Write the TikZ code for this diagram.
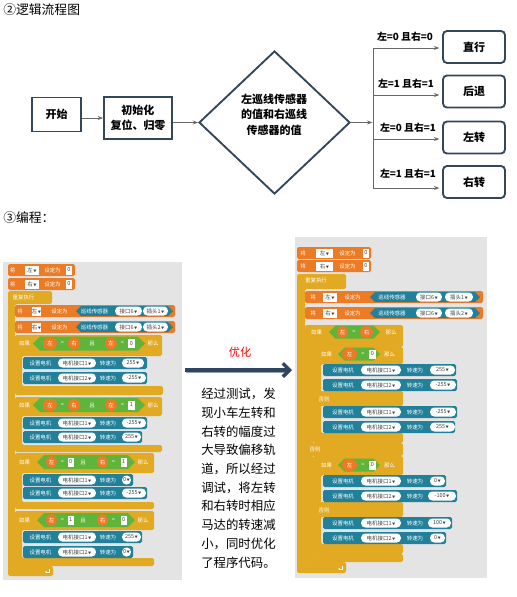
\documentclass[tikz,border=0pt]{standalone}
\usepackage{fontspec}
\setmainfont{Noto Sans CJK SC}
\newfontfamily\cjk{Noto Sans CJK SC}
\usetikzlibrary{arrows.meta,shapes.geometric}

\definecolor{orn}{HTML}{EB7B24}
\definecolor{ylw}{HTML}{E2A922}
\definecolor{tel}{HTML}{21809A}
\definecolor{grn}{HTML}{5FB43C}
\definecolor{bgg}{HTML}{E4E4E4}
\definecolor{frame}{HTML}{34465C}
\definecolor{navy}{HTML}{2E4560}

\newcommand\blkfont{\fontsize{4.1}{4.5}\selectfont}
\newcommand\sDn{{\fontsize{2.4}{3}\selectfont\,▼}}
\newcommand\sTx[3]{\node[btxt] at (#1,#2) {#3};}
\newcommand\sBlk[5]{\fill[#1,rounded corners=1.2pt] (#2,#3) rectangle (#4,#5);}
\newcommand\sWbox[4]{\fill[white] (#1,#3-4.5) rectangle (#2,#3+4.5); \node[wtxt] at ({(#1+#2)/2},#3) {#4};}
\newcommand\sPill[4]{\fill[white,rounded corners=3.2pt] (#1,#3-4.5) rectangle (#2,#3+4.5); \node[wtxt] at ({(#1+#2)/2},#3) {#4};}
\newcommand\sVar[4]{\fill[orn,rounded corners=4pt] (#1,#3-6) rectangle (#2,#3+6); \node[btxt] at ({(#1+#2)/2},#3) {#4};}
\newcommand\sHex[5]{\fill[#1] (#2,#4) -- (#2+#5/2,#4-#5/2) -- (#3-#5/2,#4-#5/2) -- (#3,#4) -- (#3-#5/2,#4+#5/2) -- (#2+#5/2,#4+#5/2) -- cycle;}
\newcommand\sCee[9]{\fill[#1,rounded corners=1.2pt] (#2,#3) -- (#4,#3) -- (#4,#5) -- (#6,#5) -- (#6,#7) -- (#8,#7) -- (#8,#9) -- (#2,#9) -- cycle;}
% motor blocks: y, x2, port, speed, speed pill x1, speed pill x2
\newcommand\sMotL[6]{\fill[tel,rounded corners=1.2pt] (23,#1-6) rectangle (#2,#1+6);
 \sTx{40.5}{#1}{设置电机}\sPill{58}{96}{#1}{#3}\sTx{108}{#1}{转速为}\sPill{#5}{#6}{#1}{#4}}
\newcommand\sMotR[6]{\fill[tel,rounded corners=1.2pt] (323,#1-6) rectangle (#2,#1+6);
 \sTx{343}{#1}{设置电机}\sPill{361}{401}{#1}{#3}\sTx{415}{#1}{转速为}\sPill{#5}{#6}{#1}{#4}}

\begin{document}
\begin{tikzpicture}[x=0.75pt,y=-0.75pt,
  btxt/.style={inner sep=0,text=white,font=\cjk\blkfont},
  wtxt/.style={inner sep=0,text=black!75,font=\cjk\blkfont},
  fbox/.style={draw=frame,line width=1.4pt,inner sep=0,font=\cjk\bfseries\fontsize{8.25}{11.25}\selectfont},
  rbox/.style={fbox,rounded corners=3pt,minimum width=46.5pt,minimum height=24pt},
  ftxt/.style={inner sep=0,font=\cjk\bfseries\fontsize{8.25}{11.6}\selectfont},
  ltxt/.style={inner sep=0,font=\cjk\bfseries\fontsize{7.4}{9}\selectfont},
  lnk/.style={draw=black!60,line width=0.7pt},
  arr/.style={lnk,-{Stealth[length=4pt,width=3pt]}},
  mtxt/.style={inner sep=0,font=\cjk\fontsize{9.3}{12}\selectfont},
  ttxt/.style={inner sep=0,font=\cjk\fontsize{9.6}{12}\selectfont}]
\useasboundingbox (0,0) rectangle (517,597);
\fill[white] (0,0) rectangle (517,597);

% ---------- titles ----------
\node[ttxt,anchor=west] (title1) at (3,10) {②逻辑流程图};
\node[ttxt,anchor=west] (title2) at (3,218) {③编程：};

% ---------- flowchart ----------
\node[fbox,minimum width=36.75pt,minimum height=25.5pt] (start) at (56.5,114.5) {开始};
\node[fbox,minimum width=51pt,minimum height=31.5pt,align=center] (init) at (138,118) {初始化\\复位、归零};
\node[draw=frame,line width=1.4pt,shape=diamond,minimum width=113.25pt,minimum height=107.25pt,inner sep=0] (dia) at (274.5,122.5) {};
\node[ftxt,align=center] (diatext) at (274,114.5) {左巡线传感器\\的值和右巡线\\传感器的值};
\node[rbox] (b1) at (474,47) {直行};
\node[rbox] (b2) at (474,91.5) {后退};
\node[rbox] (b3) at (474,137.5) {左转};
\node[rbox] (b4) at (474,182) {右转};

\draw[arr] (start.east |- init.west) -- (init.west);
\draw[arr] (init.east |- dia.west) -- (dia.west);
\coordinate (split) at (373,122.5);
\coordinate (t1) at (373,48);
\coordinate (t2) at (373,95);
\coordinate (t3) at (373,139);
\coordinate (t4) at (373,188);
\draw[arr,shorten >=0.5pt] (dia.east) -- (split);
\draw[lnk] (t1) -- (t4);
\draw[arr,shorten >=2pt] (t1) -- (t1 -| b1.west);
\draw[arr,shorten >=2pt] (t2) -- (t2 -| b2.west);
\draw[arr,shorten >=2pt] (t3) -- (t3 -| b3.west);
\draw[arr,shorten >=2pt] (t4) -- (t4 -| b4.west);
\node[ltxt] (l1) at (405,37) {左=0 且右=0};
\node[ltxt] (l2) at (406,84) {左=1 且右=1};
\node[ltxt] (l3) at (408,128) {左=0 且右=1};
\node[ltxt] (l4) at (408,174) {左=1 且右=1};

% ---------- middle ----------
\node[inner sep=0,text=red,font=\cjk\fontsize{8.4}{10}\selectfont] (opt) at (240,352) {优化};
\coordinate (ma) at (185,370);
\coordinate (mb) at (292,370);
\draw[navy!50,line width=2.6pt] (186,371.5) -- (288,371.5);
\draw[navy,line width=2.6pt,-{Straight Barb[length=5pt,width=10pt]}] (ma) -- (mb);
\foreach \tline [count=\i from 0] in {经过测试，发,现小车左转和,右转的幅度过,大导致偏移轨,道，所以经过,调试，将左转,和右转时相应,马达的转速减,小，同时优化,了程序代码。}
  \node[mtxt,anchor=west] at (201,394+18.7*\i) {\tline};

% ---------- left program ----------
\fill[bgg] (3,262) rectangle (182,580);
\sBlk{orn}{8}{264}{75}{276}
\sTx{12.5}{270}{将}\sWbox{25}{39}{270}{左\sDn}\sTx{52.5}{270}{设定为}\sWbox{66}{72}{270}{0}
\sBlk{orn}{8}{278}{75}{290}
\sTx{12.5}{284}{将}\sWbox{25}{39}{284}{右\sDn}\sTx{52.5}{284}{设定为}\sWbox{66}{72}{284}{0}
\sCee{ylw}{8}{291}{52}{304}{15}{566}{53}{576}
\sTx{23.5}{297}{重复执行}
\draw[white,line width=0.5pt,-{Stealth[length=1.6pt,width=1.8pt]}] (49.5,568.5) -- (49.5,572) -- (45,572);
% sensor sets
\sBlk{orn}{15}{305}{175}{317}
\sTx{20}{311}{将}\sWbox{32}{41}{311}{左\sDn}\sTx{59.5}{311}{设定为}
\sHex{tel}{76}{173}{311}{10}
\sTx{94.5}{311}{巡线传感器}\sPill{115}{142}{311}{接口6\sDn}\sPill{143}{168}{311}{插头1\sDn}
\sBlk{orn}{15}{321}{175}{333}
\sTx{20}{327}{将}\sWbox{32}{41}{327}{右\sDn}\sTx{59.5}{327}{设定为}
\sHex{tel}{76}{173}{327}{10}
\sTx{94.5}{327}{巡线传感器}\sPill{115}{142}{327}{接口6\sDn}\sPill{143}{168}{327}{插头2\sDn}
% if 1
\sCee{ylw}{15}{335}{162}{356}{22}{386}{163}{395}
\sTx{24.5}{343.5}{如果}
\sHex{grn}{33}{145}{343.5}{14}
\sVar{43}{57}{343.5}{左}\sTx{62.5}{343.5}{=}\sVar{68}{80}{343.5}{右}\sTx{92}{343.5}{且}
\sVar{105}{117}{343.5}{左}\sTx{122.5}{343.5}{=}\sWbox{128}{135}{343.5}{0}\sTx{153}{343.5}{那么}
\sMotL{363}{147}{电机接口1\sDn}{255\sDn}{122}{144}
\sMotL{378}{147}{电机接口2\sDn}{-255\sDn}{122}{146}
% if 2
\sCee{ylw}{15}{397}{162}{416}{22}{445}{162}{452}
\sTx{24.5}{405}{如果}
\sHex{grn}{33}{145}{405}{14}
\sVar{43}{57}{405}{左}\sTx{62.5}{405}{=}\sVar{68}{80}{405}{右}\sTx{92}{405}{且}
\sVar{105}{117}{405}{左}\sTx{122.5}{405}{=}\sWbox{128}{135}{405}{1}\sTx{153}{405}{那么}
\sMotL{423}{147}{电机接口1\sDn}{-255\sDn}{122}{146}
\sMotL{437}{142}{电机接口2\sDn}{255\sDn}{122}{141}
% if 3
\sCee{ylw}{15}{453}{154}{473}{22}{502}{154}{509}
\sTx{24.5}{462}{如果}
\sHex{grn}{37}{135}{462}{14}
\sVar{46}{57}{462}{左}\sTx{62.5}{462}{=}\sWbox{67.5}{74}{462}{0}\sTx{83}{462}{且}
\sVar{97}{108}{462}{右}\sTx{113.5}{462}{=}\sWbox{120.5}{127}{462}{1}\sTx{143}{462}{那么}
\sMotL{480}{133}{电机接口1\sDn}{0\sDn}{122}{131}
\sMotL{493}{147}{电机接口2\sDn}{-255\sDn}{122}{146}
% if 4
\sCee{ylw}{15}{511}{154}{530}{22}{558}{154}{566}
\sTx{24.5}{520}{如果}
\sHex{grn}{37}{135}{520}{14}
\sVar{46}{57}{520}{左}\sTx{62.5}{520}{=}\sWbox{67.5}{74}{520}{1}\sTx{83}{520}{且}
\sVar{97}{108}{520}{右}\sTx{113.5}{520}{=}\sWbox{120.5}{127}{520}{0}\sTx{143}{520}{那么}
\sMotL{537}{142}{电机接口1\sDn}{255\sDn}{122}{141}
\sMotL{552}{133}{电机接口2\sDn}{0\sDn}{122}{131}

% ---------- right program ----------
\fill[bgg] (295,237) rectangle (487,578);
\sBlk{orn}{297}{247}{371}{259}
\sTx{303}{253}{将}\sWbox{316}{333}{253}{左\sDn}\sTx{347.5}{253}{设定为}\sWbox{363}{369}{253}{0}
\sBlk{orn}{297}{260}{371}{272}
\sTx{303}{266}{将}\sWbox{316}{333}{266}{右\sDn}\sTx{347.5}{266}{设定为}\sWbox{363}{369}{266}{0}
\sCee{ylw}{297}{274}{346}{289}{305}{562}{346}{573}
\sTx{316}{280}{重复执行}
\draw[white,line width=0.5pt,-{Stealth[length=1.6pt,width=1.8pt]}] (342.5,565.5) -- (342.5,569) -- (338,569);
% sensor sets
\sBlk{orn}{305}{291}{483}{303}
\sTx{313}{297}{将}\sWbox{323}{337}{297}{左\sDn}\sTx{352.5}{297}{设定为}
\sHex{tel}{370}{480}{297}{10}
\sTx{392}{297}{巡线传感器}\sPill{416}{442}{297}{接口6\sDn}\sPill{445}{473}{297}{插头1\sDn}
\sBlk{orn}{305}{307}{483}{319}
\sTx{313}{313}{将}\sWbox{323}{337}{313}{右\sDn}\sTx{352.5}{313}{设定为}
\sHex{tel}{370}{480}{313}{10}
\sTx{392}{313}{巡线传感器}\sPill{416}{442}{313}{接口6\sDn}\sPill{445}{473}{313}{插头2\sDn}
% outer if / else
\sCee{ylw}{305}{325}{403}{347}{313}{554}{403}{562}
\sTx{316.5}{332}{如果}
\sHex{grn}{329}{380}{332}{13}
\sVar{337}{348}{332}{左}\sTx{354}{332}{=}\sVar{360}{373}{332}{右}\sTx{391}{332}{那么}
\sBlk{ylw}{305}{443}{403}{456}
\sTx{315}{449.5}{否则}
% nested if 1
\sCee{ylw}{313}{347}{403}{364}{321}{433}{403}{443}
\sTx{326.5}{354}{如果}
\sHex{grn}{338}{380}{354}{13}
\sVar{342}{357}{354}{左}\sTx{363}{354}{=}\sWbox{369}{376}{354}{0}\sTx{389.5}{354}{那么}
\sBlk{ylw}{313}{391}{403}{406}
\sTx{324}{399}{否则}
\sMotR{370}{456}{电机接口1\sDn}{255\sDn}{430}{455}
\sMotR{385}{457}{电机接口2\sDn}{-255\sDn}{430}{456}
\sMotR{412}{457}{电机接口1\sDn}{-255\sDn}{430}{456}
\sMotR{427}{455}{电机接口2\sDn}{255\sDn}{430}{455}
% nested if 2
\sCee{ylw}{313}{456}{403}{475}{321}{544}{403}{554}
\sTx{326.5}{465}{如果}
\sHex{grn}{338}{380}{465}{13}
\sVar{342}{357}{465}{左}\sTx{363}{465}{=}\sWbox{369}{376}{465}{0}\sTx{389.5}{465}{那么}
\sBlk{ylw}{313}{502}{403}{517}
\sTx{324}{510}{否则}
\sMotR{481}{446}{电机接口1\sDn}{0\sDn}{430}{445}
\sMotR{496}{457}{电机接口2\sDn}{-100\sDn}{428}{456}
\sMotR{523}{452}{电机接口1\sDn}{100\sDn}{428}{451}
\sMotR{538}{446}{电机接口2\sDn}{0\sDn}{430}{445}
\end{tikzpicture}
\end{document}
